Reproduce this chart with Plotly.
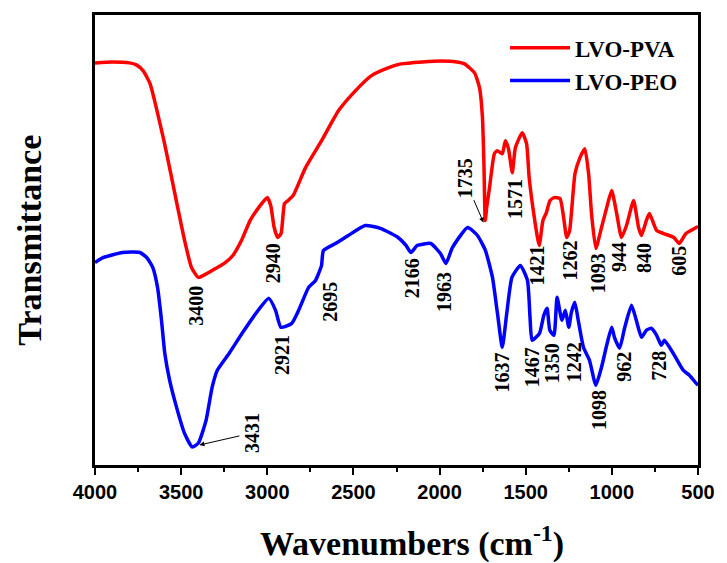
import plotly.graph_objects as go

# LVO-PVA spectrum (wavenumber, transmittance a.u.)
pva_wn = [4000, 3900, 3800, 3760, 3720, 3680, 3640, 3600, 3560, 3520,
          3480, 3440, 3400, 3350, 3300, 3250, 3200, 3150, 3100, 3050,
          3000, 2980, 2960, 2940, 2920, 2900, 2880, 2850, 2778, 2685,
          2587, 2489, 2397, 2299, 2224, 2100, 1993, 1900, 1855, 1797,
          1768, 1751, 1742, 1735, 1725, 1710, 1682, 1665, 1636, 1618,
          1600, 1578, 1560, 1520, 1495, 1480, 1450, 1422, 1400, 1380,
          1359, 1335, 1301, 1280, 1262, 1245, 1214, 1185, 1157, 1135,
          1118, 1093, 1060, 1030, 1001, 972, 944, 915, 874, 845,
          828, 800, 782, 740, 700, 640, 609, 570, 511, 500]
pva_t = [403, 404, 403, 401, 395, 382, 355, 325, 292, 258,
         225, 198, 188, 192, 197, 202, 210, 225, 245, 258,
         268, 260, 238, 228, 232, 262, 265, 270, 298, 325,
         355, 375, 390, 398, 402, 404, 405, 404, 402, 393,
         378, 348, 298, 245, 260, 278, 312, 315, 312, 325,
         317, 293, 318, 333, 322, 288, 248, 220, 245, 253,
         265, 268, 267, 248, 228, 235, 292, 308, 317, 292,
         252, 217, 238, 258, 275, 252, 228, 240, 265, 238,
         230, 245, 252, 235, 232, 228, 222, 232, 238, 239]

# LVO-PEO spectrum
peo_wn = [4000, 3950, 3840, 3740, 3700, 3665, 3637, 3614, 3595, 3567,
          3527, 3481, 3435, 3400, 3355, 3320, 3290, 3221, 3146, 3066,
          2991, 2952, 2921, 2858, 2818, 2760, 2720, 2702, 2685, 2674,
          2604, 2530, 2431, 2340, 2241, 2195, 2166, 2130, 2051, 1995,
          1963, 1925, 1837, 1780, 1734, 1693, 1664, 1636, 1610, 1580,
          1531, 1490, 1475, 1463, 1420, 1395, 1376, 1360, 1336, 1318,
          1290, 1270, 1250, 1235, 1215, 1195, 1165, 1130, 1093, 1060,
          1030, 1001, 985, 955, 925, 886, 858, 828, 800, 771,
          740, 713, 695, 644, 586, 550, 511, 500]
peo_t = [203, 208, 213, 213, 208, 198, 178, 145, 112, 85,
         58, 32, 18, 22, 45, 78, 95, 112, 132, 152,
         167, 155, 138, 142, 155, 178, 185, 192, 200, 215,
         222, 230, 240, 237, 228, 220, 213, 220, 222, 212,
         202, 218, 238, 230, 215, 188, 152, 118, 152, 188,
         200, 185, 148, 125, 132, 150, 157, 135, 130, 168,
         145, 155, 138, 153, 163, 145, 118, 105, 80, 98,
         120, 138, 128, 117, 138, 160, 145, 128, 135, 137,
         130, 120, 125, 112, 95, 90, 82, 80]

# Peak labels: (text, label x, label y)
labels = [("3400", 3412, 160), ("2940", 2962, 202), ("2921", 2916, 110),
          ("2695", 2633, 163), ("2166", 2155, 187), ("1963", 1970, 173),
          ("1571", 1566, 267), ("1421", 1434, 200), ("1262", 1243, 205),
          ("1093", 1076, 192), ("944", 955, 208), ("840", 811, 208),
          ("605", 609, 205), ("1637", 1636, 93), ("1467", 1463, 98),
          ("1350", 1347, 102), ("1242", 1220, 103), ("1098", 1076, 55),
          ("962", 926, 98), ("728", 724, 100)]
# Arrow labels: (text, label x, label y, arrow head x, arrow head y)
arrow_labels = [("3431", 3089, 32, 3394, 20), ("1735", 1855, 287, 1745, 243)]

x_title = "Wavenumbers (cm<sup>-1</sup>)"
y_title = "Transmittance"

fig = go.Figure()
fig.add_trace(go.Scatter(x=pva_wn, y=pva_t, mode="lines", name="LVO-PVA",
                         line=dict(color="#ff0000", width=3.5, shape="spline", smoothing=0.5)))
fig.add_trace(go.Scatter(x=peo_wn, y=peo_t, mode="lines", name="LVO-PEO",
                         line=dict(color="#0000ff", width=3.5, shape="spline", smoothing=0.5)))

lab_font = dict(family="Liberation Serif", size=20, color="black", weight="bold")
for t, x, y in labels:
    fig.add_annotation(x=x, y=y, text=t, showarrow=False, textangle=-90, font=lab_font)
for t, x, y, hx, hy in arrow_labels:
    fig.add_annotation(x=hx, y=hy, ax=x, ay=y, axref="x", ayref="y", text=t,
                       showarrow=True, arrowhead=2, arrowsize=1, arrowwidth=1,
                       arrowcolor="black", textangle=-90, font=lab_font)

title_font = dict(family="Liberation Serif", size=34, color="black", weight="bold")
# axis titles placed as paper-anchored text
fig.add_annotation(xref="paper", yref="paper", x=0.525, y=-0.17, xanchor="center",
                   yanchor="middle", text=x_title, showarrow=False, font=title_font)
fig.add_annotation(xref="paper", yref="paper", x=-0.11, y=0.5, xanchor="center",
                   yanchor="middle", text=y_title, showarrow=False, textangle=-90,
                   font=title_font)

fig.update_layout(
    width=727, height=563,
    margin=dict(l=95, r=24, t=14, b=98),
    paper_bgcolor="white", plot_bgcolor="white",
    showlegend=True,
    legend=dict(x=0.68, y=0.975, xanchor="left", yanchor="top",
                bgcolor="rgba(0,0,0,0)",
                font=dict(family="Liberation Serif", size=23, color="black", weight="bold"),
                tracegroupgap=0, itemwidth=60),
    xaxis=dict(range=[4000, 500], showgrid=False, zeroline=False,
               showline=True, linecolor="black", linewidth=2.5, mirror=True,
               ticks="outside", ticklen=7, tickwidth=2, tickcolor="black",
               tickvals=[4000, 3500, 3000, 2500, 2000, 1500, 1000, 500],
               minor=dict(ticks="outside", ticklen=4, tickwidth=1.5, tickcolor="black", dtick=250),
               tickfont=dict(family="Liberation Sans", size=20, color="black", weight="bold")),
    yaxis=dict(range=[0, 451], showgrid=False, zeroline=False,
               showline=True, linecolor="black", linewidth=2.5, mirror=True,
               showticklabels=False, ticks=""),
)

fig.write_html("out.html")
